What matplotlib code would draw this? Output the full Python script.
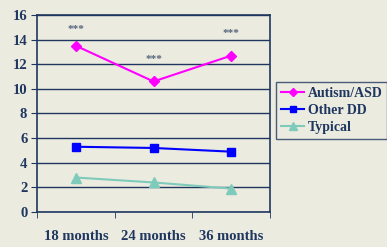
import numpy as np
import matplotlib.pyplot as plt

months = ['18 months', '24 months', '36 months']
autism = [13.5, 10.6, 12.7]
other_dd = [5.3, 5.2, 4.9]
typical = [2.8, 2.4, 1.9]
stars_y = [14.8, 12.4, 14.5]

navy = '#1f3760'
bg = '#ecebdf'
plt.rcParams['font.family'] = ['Liberation Serif', 'DejaVu Serif']

fig = plt.figure(figsize=(3.87, 2.47), dpi=100, facecolor=bg)
ax = fig.add_axes([0.0956, 0.1417, 0.6022, 0.7976], facecolor=bg)

x = np.arange(len(months))
ax.plot(x, autism, color='#ff00ff', marker='D', ms=5, lw=1.5, label='Autism/ASD')
ax.plot(x, other_dd, color='#0000ff', marker='s', ms=6, lw=1.5, label='Other DD')
ax.plot(x, typical, color='#7fcbbb', marker='^', ms=7, lw=1.5, label='Typical')
for xi, yi in zip(x, stars_y):
    ax.text(xi, yi, '***', ha='center', va='center', fontsize=8,
            fontweight='bold', color='#55657e')

ax.set_xlim(-0.5, 2.5)
ax.set_ylim(0, 16)
ax.set_yticks(range(0, 17, 2))
ax.yaxis.grid(True, color=navy, lw=1)
ax.set_axisbelow(True)
ax.set_xticks(x)
ax.set_xticklabels(months)
ax.set_xticks([-0.5, 0.5, 1.5, 2.5], minor=True)
ax.tick_params(axis='x', which='major', length=0, pad=13)
ax.tick_params(axis='x', which='minor', length=4, color=navy)
ax.tick_params(axis='y', length=4, color=navy, pad=3)
for lab in ax.get_xticklabels() + ax.get_yticklabels():
    lab.set_fontweight('bold')
    lab.set_color(navy)
    lab.set_fontsize(10.5)
for s in ax.spines.values():
    s.set_color(navy)
    s.set_linewidth(1.2)

leg = fig.legend(loc='upper left', bbox_to_anchor=(0.713, 0.668), frameon=True,
                 fancybox=False, edgecolor=navy, facecolor=bg, fontsize=10,
                 handlelength=1.7, handletextpad=0.25, borderpad=0.35,
                 labelspacing=0.3, borderaxespad=0, markerscale=0.8)
for t in leg.get_texts():
    t.set_fontweight('bold')
    t.set_color(navy)

fig.savefig('out.png', dpi=100, facecolor=bg)
